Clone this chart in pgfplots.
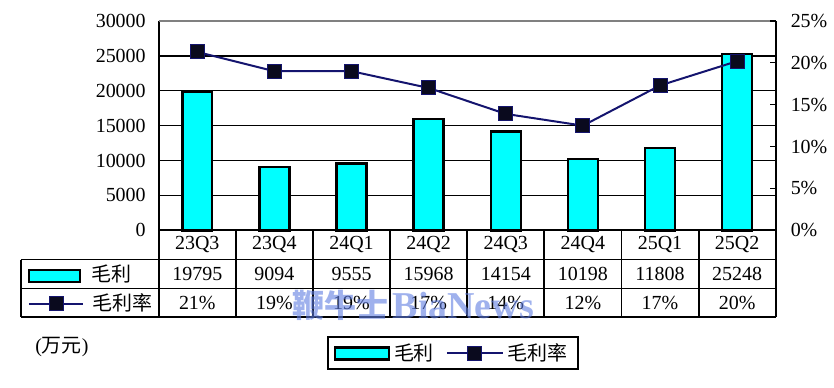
\documentclass[border=0pt]{standalone}
\usepackage{pgfplots}
\pgfplotsset{compat=1.18}
\usepackage{fontspec}
\setmainfont{Liberation Serif}
\newfontfamily\cjk{Noto Sans CJK SC}
\definecolor{navyline}{RGB}{20,20,110}
\definecolor{markfill}{RGB}{10,10,30}
\definecolor{aqua}{RGB}{0,255,255}
\definecolor{wm}{RGB}{95,125,225}
\pgfplotsset{
  mylegline/.style={legend image code/.code={\draw[mark repeat=2,mark phase=2,##1] plot coordinates {(0pt,0pt) (14pt,0pt) (28pt,0pt)};}},
  mylegbar/.style={legend image code/.code={\draw[fill=aqua,draw=black,line width=1.2pt] (0pt,-3pt) rectangle (27pt,3pt);}},
}
\begin{document}
\begin{tikzpicture}
\path (0,0) rectangle (417pt,194pt);
\begin{axis}[
  at={(79.5pt,78.65pt)}, anchor=south west, scale only axis,
  width=309pt, height=104.85pt,
  xmin=-0.5, xmax=7.5, ymin=0, ymax=30000,
  axis lines*=left, axis line style={black,line width=0.85pt},
  xtick=\empty,
  ytick={0,5000,...,25000},
  extra y ticks={30000},
  extra y tick style={grid style={gray,line width=0.65pt}},
  ymajorgrids, grid style={black,line width=0.65pt},
  major tick length=0pt,
  scaled y ticks=false,
  /pgf/number format/.cd,1000 sep={},assume math mode=true,/pgfplots/.cd,
  yticklabel style={font=\fontsize{10}{12}\selectfont, xshift=-3pt},
  clip=false,
]
\addplot[ybar, bar width=15pt, fill=aqua, draw=black, line width=1.2pt]
  coordinates {(0,19795) (1,9094) (2,9555) (3,15968) (4,14154) (5,10198) (6,11808) (7,25248)};
\end{axis}
\begin{axis}[
  at={(79.5pt,78.65pt)}, anchor=south west, scale only axis,
  width=309pt, height=104.85pt,
  xmin=-0.5, xmax=7.5, ymin=0, ymax=25,
  axis x line=none, axis y line*=right, axis line style={black,line width=0.85pt},
  ytick={0,5,...,25},
  tick align=inside, major tick length=3pt, tick style={black,line width=0.65pt},
  /pgf/number format/.cd,assume math mode=true,/pgfplots/.cd,
  yticklabel={\pgfmathprintnumber{\tick}\%},
  yticklabel style={font=\fontsize{10}{12}\selectfont, xshift=4pt},
  clip=false,
  legend style={at={(0.4765,-0.507)}, anchor=north, legend columns=2,
    draw=black, line width=1pt, font=\cjk\fontsize{10}{12}\selectfont,
    inner xsep=3pt, inner ysep=1pt,
    /tikz/every even column/.append style={column sep=4pt}},
]
\addlegendimage{mylegbar}
\addlegendentry{毛利}
\addplot[navyline, line width=1pt, mark=square*, mark size=3.5pt,
  mark options={fill=markfill, draw=navyline, line width=0.5pt}, mylegline]
  coordinates {(0,21.3) (1,19.0) (2,19.0) (3,17.0) (4,13.9) (5,12.5) (6,17.3) (7,20.2)};
\addlegendentry{毛利率}
\end{axis}
\begin{scope}[x=0.5pt,y=0.5pt]
  \begin{scope}[line width=0.9pt]
  \foreach \yy in {128,99,70.3} \draw (21,\yy) -- (777,\yy);
  \draw (21,128) -- (21,70.3);
  \foreach \k in {0,...,8} \draw ({159+77.25*\k},157.3) -- ({159+77.25*\k},70.3);
  \end{scope}
  \foreach \lab [count=\i from 0] in {23Q3,23Q4,24Q1,24Q2,24Q3,24Q4,25Q1,25Q2}
    \node[font=\fontsize{10}{12}\selectfont] at ({159+77.25*(\i+0.5)},142.7) {\lab};
  \foreach \lab [count=\i from 0] in {19795,9094,9555,15968,14154,10198,11808,25248}
    \node[font=\fontsize{10}{12}\selectfont] at ({159+77.25*(\i+0.5)},113.5) {\lab};
  \foreach \lab [count=\i from 0] in {21,19,19,17,14,12,17,20}
    \node[font=\fontsize{10}{12}\selectfont] at ({159+77.25*(\i+0.5)},84.7) {\lab\%};
  \draw[fill=aqua,draw=black,line width=1.2pt] (29,105.5) rectangle (80,117.5);
  \node[font=\cjk\fontsize{10}{12}\selectfont] at (112,113.5) {毛利};
  \draw[navyline,line width=1pt] (29,83.7) -- (83,83.7);
  \fill[markfill,draw=navyline,line width=0.5pt] (49.5,76.7) rectangle (63.5,90.7);
  \node[font=\cjk\fontsize{10}{12}\selectfont] at (123,84.7) {毛利率};
  \node[anchor=west,inner sep=0pt,font=\fontsize{10}{12}\selectfont] at (35,40) {({\cjk 万元})};
  \node[anchor=west,inner sep=0pt,text=wm,opacity=0.6,font=\cjk\bfseries\fontsize{16}{18}\selectfont] at (293,82) {鞭牛士};
  \node[anchor=west,inner sep=0pt,text=wm,opacity=0.6,font=\bfseries\fontsize{19}{22}\selectfont] at (393,82) {BiaNews};
\end{scope}
\end{tikzpicture}
\end{document}
